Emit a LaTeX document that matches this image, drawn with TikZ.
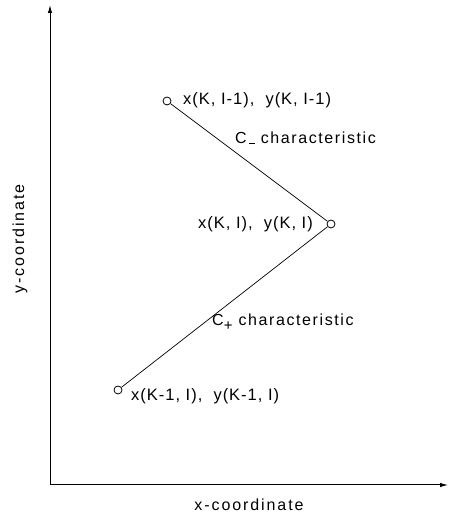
\documentclass[tikz,border=0pt]{standalone}
\usepackage{fontspec}
\setmainfont{Liberation Sans}
\usetikzlibrary{arrows.meta}
\begin{document}
\begin{tikzpicture}[x=1pt,y=1pt,
  lbl/.style={inner sep=0pt, font=\fontsize{16.5}{19}\selectfont\addfontfeature{LetterSpace=6}},
  clbl/.style={inner sep=0pt, font=\fontsize{16}{19}\selectfont\addfontfeature{LetterSpace=10}},
  albl/.style={inner sep=0pt, font=\fontsize{16}{19}\selectfont\addfontfeature{LetterSpace=12}},
  pt/.style={circle, draw, line width=0.8pt, minimum size=8pt, inner sep=0pt},
  axis/.style={line width=1pt, -{Latex[length=8pt,width=4.5pt]}},
  char/.style={line width=0.7pt}]
\useasboundingbox (0,0) rectangle (450,518);
\coordinate (O) at (50,33);
\coordinate (ytop) at (50,513);
\coordinate (xend) at (448,33);
\draw[axis] (O) -- (ytop);
\draw[axis] (O) -- (xend);
\node[pt] (A) at (167,417) {};
\node[pt] (B) at (331,294) {};
\node[pt] (C) at (118,128) {};
\draw[char] (A) -- (B);
\draw[char] (B) -- (C);
\node[lbl, anchor=west] (la) at (183,418) {x(K, I-1),\ \ y(K, I-1)};
\node[clbl, anchor=west] (cm) at (235,380) {C\hspace{2pt}\rule[-1pt]{6pt}{1.1pt}\ characteristic};
\node[lbl, anchor=east] (lb) at (313,294) {x(K, I),\ \ y(K, I)};
\node[clbl, anchor=west] (cp) at (212,196) {C\raisebox{-4.5pt}{\fontsize{15}{15}\selectfont +}\ characteristic};
\node[lbl, anchor=west] (lc) at (131,122) {x(K-1, I),\ \ y(K-1, I)};
\node[albl] (xl) at (249,13) {x-coordinate};
\node[albl, rotate=90] (yl) at (20,279) {y-coordinate};
\end{tikzpicture}
\end{document}
